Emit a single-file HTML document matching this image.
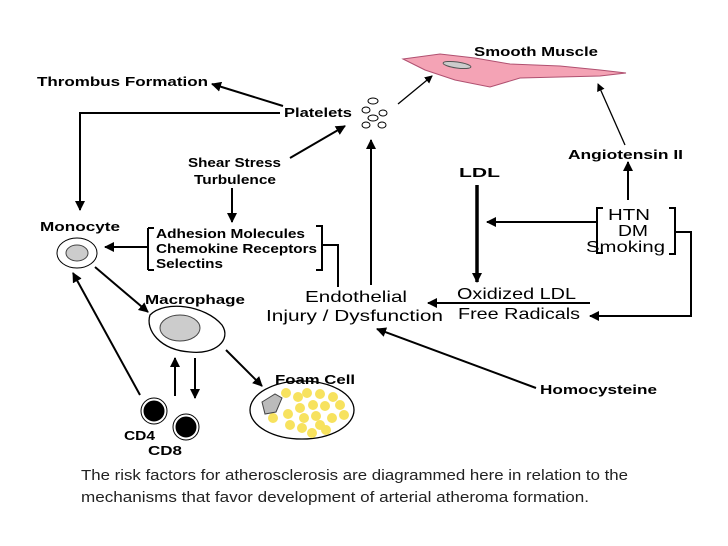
<!DOCTYPE html>
<html><head><meta charset="utf-8"><style>
html,body{margin:0;padding:0;background:#fff;width:728px;height:546px;overflow:hidden}
svg{display:block}
.b{font-family:"Liberation Sans",sans-serif;font-weight:bold;font-size:13px;fill:#000}
.r{font-family:"Liberation Sans",sans-serif;font-size:16px;fill:#000}
.c{font-family:"Liberation Sans",sans-serif;font-size:15px;fill:#222}
</style></head><body>
<svg width="728" height="546" viewBox="0 0 728 546" xmlns="http://www.w3.org/2000/svg">
<defs>
<marker id="a" markerWidth="10" markerHeight="10" refX="9" refY="5" orient="auto" markerUnits="userSpaceOnUse"><path d="M0,0 L10,5 L0,10 z" fill="#000"/></marker>
<marker id="s" markerWidth="8" markerHeight="8" refX="7" refY="4" orient="auto" markerUnits="userSpaceOnUse"><path d="M0,0 L8,4 L0,8 z" fill="#000"/></marker>
</defs>
<g stroke="#000" fill="none">
<path d="M403,59 L440,54 L475,58 L510,64 L560,66 L600,70 L626,73 L600,76 L560,77 L520,78 L490,87 L455,80 L425,70 Z" fill="#f4a3b5" stroke="#b05070" stroke-width="1"/>
<ellipse cx="457" cy="65" rx="14" ry="3" fill="#ccc" stroke="#555" transform="rotate(8 457 65)"/>
<ellipse cx="373" cy="101" rx="5" ry="3"/><ellipse cx="366" cy="110" rx="4" ry="3"/><ellipse cx="383" cy="113" rx="4" ry="3"/><ellipse cx="373" cy="118" rx="5" ry="3"/><ellipse cx="366" cy="125" rx="4" ry="3"/><ellipse cx="382" cy="125" rx="4" ry="3"/>
<g stroke-width="2">
<line x1="283" y1="106" x2="212" y2="84" marker-end="url(#a)"/>
<polyline points="280,113 80,113 80,210" marker-end="url(#a)"/>
<line x1="290" y1="158" x2="345" y2="126" marker-end="url(#a)"/>
<line x1="232" y1="188" x2="232" y2="222" marker-end="url(#a)"/>
<line x1="148" y1="247" x2="105" y2="247" marker-end="url(#a)"/>
<polyline points="148,228 148,270"/><line x1="148" y1="228" x2="154" y2="228"/><line x1="148" y1="270" x2="154" y2="270"/>
<polyline points="316,226 322,226 322,270 316,270"/>
<polyline points="322,245 338,245 338,287"/>
<line x1="371" y1="285" x2="371" y2="140" marker-end="url(#a)"/>
<line x1="477" y1="185" x2="477" y2="282" stroke-width="3.5" marker-end="url(#a)"/>
<line x1="590" y1="303" x2="428" y2="303" marker-end="url(#a)"/>
<line x1="597" y1="222" x2="487" y2="222" marker-end="url(#a)"/>
<polyline points="603,208 597,208 597,253 603,253"/>
<polyline points="669,208 675,208 675,254 669,254"/>
<polyline points="675,232 691,232 691,316 590,316" marker-end="url(#a)"/>
<line x1="628" y1="200" x2="628" y2="162" marker-end="url(#a)"/>
<line x1="536" y1="388" x2="377" y2="329" marker-end="url(#a)"/>
<line x1="95" y1="267" x2="148" y2="312" marker-end="url(#a)"/>
<line x1="140" y1="395" x2="73" y2="273" marker-end="url(#a)"/>
<line x1="175" y1="396" x2="175" y2="358" marker-end="url(#a)"/>
<line x1="195" y1="358" x2="195" y2="398" marker-end="url(#a)"/>
<line x1="226" y1="350" x2="262" y2="386" marker-end="url(#a)"/>
</g>
<g stroke-width="1.3">
<line x1="398" y1="104" x2="432" y2="76" marker-end="url(#s)"/>
<line x1="625" y1="145" x2="598" y2="84" marker-end="url(#s)"/>
</g>
<ellipse cx="77" cy="253" rx="20" ry="15" fill="#fff"/>
<ellipse cx="77" cy="253" rx="11" ry="8" fill="#ccc" stroke="#444"/>
<path d="M150,315 C165,300 205,305 222,325 C232,340 215,355 190,352 C160,350 145,330 150,315 Z" fill="#fff" stroke-width="1.3"/>
<ellipse cx="180" cy="328" rx="20" ry="13" fill="#ccc" stroke="#444"/>
<circle cx="154" cy="411" r="13" fill="#fff"/><circle cx="154" cy="411" r="10" fill="#000"/>
<circle cx="186" cy="427" r="13" fill="#fff"/><circle cx="186" cy="427" r="10" fill="#000"/>
<ellipse cx="302" cy="410" rx="52" ry="29" fill="#fff" stroke-width="1.3"/>
<g fill="#f7e25e" stroke="none">
<circle cx="286" cy="393" r="5"/><circle cx="298" cy="397" r="5"/><circle cx="307" cy="393" r="5"/><circle cx="320" cy="394" r="5"/><circle cx="333" cy="397" r="5"/>
<circle cx="313" cy="405" r="5"/><circle cx="325" cy="406" r="5"/><circle cx="340" cy="405" r="5"/><circle cx="300" cy="408" r="5"/><circle cx="288" cy="414" r="5"/>
<circle cx="304" cy="418" r="5"/><circle cx="316" cy="416" r="5"/><circle cx="332" cy="418" r="5"/><circle cx="344" cy="415" r="5"/><circle cx="273" cy="418" r="5"/>
<circle cx="290" cy="425" r="5"/><circle cx="302" cy="428" r="5"/><circle cx="320" cy="425" r="5"/><circle cx="312" cy="433" r="5"/><circle cx="326" cy="430" r="5"/>
</g>
<path d="M262,402 L275,394 L282,398 L276,412 L265,414 Z" fill="#bbb" stroke="#444"/>
</g>
<g lengthAdjust="spacingAndGlyphs">
<text class="b" x="474" y="56" textLength="124" lengthAdjust="spacingAndGlyphs">Smooth Muscle</text>
<text class="b" x="37" y="86" textLength="171" lengthAdjust="spacingAndGlyphs">Thrombus Formation</text>
<text class="b" x="284" y="117" textLength="68" lengthAdjust="spacingAndGlyphs">Platelets</text>
<text class="b" x="188" y="167" textLength="93" lengthAdjust="spacingAndGlyphs">Shear Stress</text>
<text class="b" x="194" y="184" textLength="82" lengthAdjust="spacingAndGlyphs">Turbulence</text>
<text class="b" x="40" y="231" textLength="80" lengthAdjust="spacingAndGlyphs">Monocyte</text>
<text class="b" x="156" y="238" textLength="149" lengthAdjust="spacingAndGlyphs">Adhesion Molecules</text>
<text class="b" x="156" y="253" textLength="161" lengthAdjust="spacingAndGlyphs">Chemokine Receptors</text>
<text class="b" x="156" y="268" textLength="67" lengthAdjust="spacingAndGlyphs">Selectins</text>
<text class="b" x="145" y="304" textLength="100" lengthAdjust="spacingAndGlyphs">Macrophage</text>
<text class="b" x="275" y="384" textLength="80" lengthAdjust="spacingAndGlyphs">Foam Cell</text>
<text class="b" x="124" y="440" textLength="31" lengthAdjust="spacingAndGlyphs">CD4</text>
<text class="b" x="148" y="455" textLength="34" lengthAdjust="spacingAndGlyphs">CD8</text>
<text class="b" x="568" y="159" textLength="115" lengthAdjust="spacingAndGlyphs">Angiotensin II</text>
<text class="b" x="459" y="177" font-size="17" textLength="41" lengthAdjust="spacingAndGlyphs">LDL</text>
<text class="r" x="608" y="220" textLength="42" lengthAdjust="spacingAndGlyphs">HTN</text>
<text class="r" x="618" y="236" textLength="30" lengthAdjust="spacingAndGlyphs">DM</text>
<text class="r" x="586" y="252" textLength="79" lengthAdjust="spacingAndGlyphs">Smoking</text>
<text class="r" x="305" y="302" textLength="102" lengthAdjust="spacingAndGlyphs">Endothelial</text>
<text class="r" x="266" y="321" textLength="177" lengthAdjust="spacingAndGlyphs">Injury / Dysfunction</text>
<text class="r" x="457" y="299" textLength="119" lengthAdjust="spacingAndGlyphs">Oxidized LDL</text>
<text class="r" x="458" y="319" textLength="122" lengthAdjust="spacingAndGlyphs">Free Radicals</text>
<text class="b" x="540" y="394" textLength="117" lengthAdjust="spacingAndGlyphs">Homocysteine</text>
</g>
<text class="c" x="81" y="480" textLength="547" lengthAdjust="spacingAndGlyphs">The risk factors for atherosclerosis are diagrammed here in relation to the</text>
<text class="c" x="81" y="502" textLength="508" lengthAdjust="spacingAndGlyphs">mechanisms that favor development of arterial atheroma formation.</text>
</svg>
</body></html>
